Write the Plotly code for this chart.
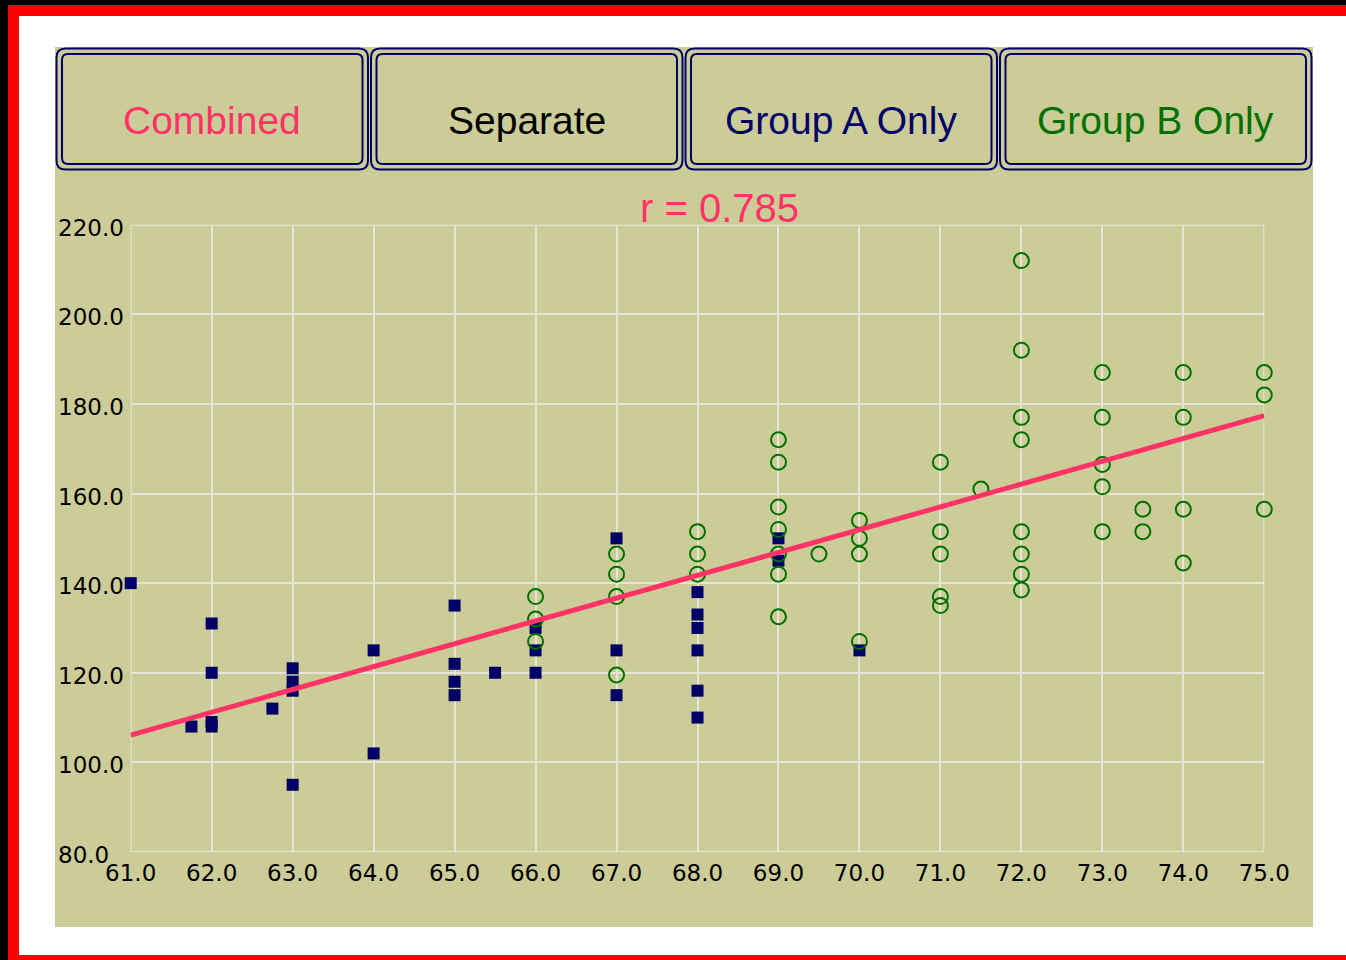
import plotly.graph_objects as go

# ---- data -------------------------------------------------------------
# Group A (filled squares)
group_a_height = [61, 61.75, 62, 62, 62, 62, 62.75, 63, 63, 63, 63, 64, 64,
                  65, 65, 65, 65, 65.5, 66, 66, 66, 67, 67, 67,
                  68, 68, 68, 68, 68, 68, 69, 69, 70]
group_a_weight = [140, 108, 131, 120, 109, 108, 112, 121, 118, 116, 95, 125, 102,
                  135, 122, 118, 115, 120, 130, 125, 120, 150, 125, 115,
                  138, 133, 130, 125, 116, 110, 150, 145, 125]

# Group B (open circles)
group_b_height = [66, 66, 66,
                  67, 67, 67, 67,
                  68, 68, 68,
                  69, 69, 69, 69, 69, 69, 69,
                  69.5,
                  70, 70, 70, 70,
                  71, 71, 71, 71, 71,
                  71.5,
                  72, 72, 72, 72, 72, 72, 72, 72,
                  73, 73, 73, 73, 73,
                  73.5, 73.5,
                  74, 74, 74, 74,
                  75, 75, 75]
group_b_weight = [137, 132, 127,
                  146.5, 142, 137, 119.5,
                  151.5, 146.5, 142,
                  172, 167, 157, 152, 146.5, 142, 132.5,
                  146.5,
                  154, 150, 146.5, 127,
                  167, 151.5, 146.5, 137, 135,
                  161,
                  212, 192, 177, 172, 151.5, 146.5, 142, 138.5,
                  187, 177, 166.5, 161.5, 151.5,
                  156.5, 151.5,
                  187, 177, 156.5, 144.5,
                  187, 182, 156.5]

# combined trend line (end points)
fit_x = [61, 75]
fit_y = [106.1, 177.4]

x_ticks = [61, 62, 63, 64, 65, 66, 67, 68, 69, 70, 71, 72, 73, 74, 75]
x_tick_labels = ["61.0", "62.0", "63.0", "64.0", "65.0", "66.0", "67.0", "68.0",
                 "69.0", "70.0", "71.0", "72.0", "73.0", "74.0", "75.0"]
y_ticks = [80, 100, 120, 140, 160, 180, 200, 220]
y_tick_labels = ["80.0", "100.0", "120.0", "140.0", "160.0", "180.0", "200.0", "220.0"]

button_labels = ["Combined", "Separate", "Group A Only", "Group B Only"]
correlation_label = "r = 0.785"

# ---- styling ----------------------------------------------------------
W, H = 1346, 960
KHAKI = "#CCCC99"
GRID = "#E6E6D6"
NAVY = "#000066"
GREEN = "#007000"
PINK = "#FF3366"
RED = "#FF0000"
FONT = "Liberation Sans, Arial, sans-serif"
TICK_FONT = "DejaVu Sans, Verdana, sans-serif"
button_colors = [PINK, "#000000", NAVY, GREEN]

# plot area in pixels
PX0, PX1 = 130.7, 1264.3
PY0, PY1 = 224.7, 852.0


def px(x):
    return x / W


def py(y):
    return 1 - y / H


def rounded_rect(x0, y0, x1, y1, r):
    """SVG path (paper coords) for a rounded rectangle given in pixels."""
    pts = [
        f"M{px(x0 + r)},{py(y0)}",
        f"L{px(x1 - r)},{py(y0)}",
        f"Q{px(x1)},{py(y0)} {px(x1)},{py(y0 + r)}",
        f"L{px(x1)},{py(y1 - r)}",
        f"Q{px(x1)},{py(y1)} {px(x1 - r)},{py(y1)}",
        f"L{px(x0 + r)},{py(y1)}",
        f"Q{px(x0)},{py(y1)} {px(x0)},{py(y1 - r)}",
        f"L{px(x0)},{py(y0 + r)}",
        f"Q{px(x0)},{py(y0)} {px(x0 + r)},{py(y0)}",
        "Z",
    ]
    return " ".join(pts)


fig = go.Figure()

fig.add_trace(go.Scatter(
    x=group_a_height, y=group_a_weight, mode="markers", name="Group A",
    marker=dict(symbol="square", size=12, color=NAVY, line=dict(width=0)),
    cliponaxis=False, hoverinfo="x+y"))
fig.add_trace(go.Scatter(
    x=group_b_height, y=group_b_weight, mode="markers", name="Group B",
    marker=dict(symbol="circle-open", size=15, color=GREEN, line=dict(width=2, color=GREEN)),
    cliponaxis=False, hoverinfo="x+y"))
fig.add_trace(go.Scatter(
    x=fit_x, y=fit_y, mode="lines", name="Fit",
    line=dict(color=PINK, width=5), cliponaxis=False, hoverinfo="skip"))

shapes = [
    # red frame, white page, khaki panel
    dict(type="rect", xref="paper", yref="paper", x0=px(8), x1=px(W), y0=py(H), y1=py(5),
         fillcolor=RED, line_width=0, layer="below"),
    dict(type="rect", xref="paper", yref="paper", x0=px(19), x1=px(W), y0=py(955), y1=py(16),
         fillcolor="white", line_width=0, layer="below"),
    dict(type="rect", xref="paper", yref="paper", x0=px(55), x1=px(1313), y0=py(927), y1=py(47),
         fillcolor=KHAKI, line_width=0, layer="below"),
    # grid frame along the axis limits
    dict(type="rect", xref="x", yref="y", x0=x_ticks[0], x1=x_ticks[-1], y0=y_ticks[0], y1=y_ticks[-1],
         line=dict(color=GRID, width=2), fillcolor="rgba(0,0,0,0)", layer="below"),
]

annotations = []
cell_w = (1313 - 55) / 4
for i, (label, color) in enumerate(zip(button_labels, button_colors)):
    left = 55 + i * cell_w
    right = left + cell_w
    # double border of the button
    shapes.append(dict(type="path", xref="paper", yref="paper", layer="above",
                       path=rounded_rect(left + 1.5, 48.5, right - 1.5, 169.5, 9),
                       line=dict(color=NAVY, width=2)))
    shapes.append(dict(type="path", xref="paper", yref="paper", layer="above",
                       path=rounded_rect(left + 7, 54, right - 7, 164, 6),
                       line=dict(color=NAVY, width=2)))
    annotations.append(dict(text=label, xref="paper", yref="paper",
                            x=px((left + right) / 2), y=py(121), xanchor="center", yanchor="middle",
                            showarrow=False, font=dict(family=FONT, size=39, color=color)))

annotations.append(dict(text=correlation_label, xref="paper", yref="paper",
                        x=px(719), y=py(208), xanchor="center", yanchor="middle",
                        showarrow=False, font=dict(family=FONT, size=40, color=PINK)))

# left-aligned value labels on the vertical axis
for val, lab in zip(y_ticks, y_tick_labels):
    annotations.append(dict(text=lab, xref="paper", yref="y", x=px(56), y=val,
                            xanchor="left", yanchor="middle", yshift=-3, showarrow=False,
                            font=dict(family=TICK_FONT, size=23, color="#000000")))

fig.update_layout(
    width=W, height=H,
    autosize=False,
    margin=dict(l=0, r=0, t=0, b=0, pad=0, autoexpand=False),
    paper_bgcolor="#000000",
    plot_bgcolor=KHAKI,
    showlegend=False,
    shapes=shapes,
    annotations=annotations,
    xaxis=dict(domain=[px(PX0), px(PX1)], range=[61, 75], tickvals=x_ticks, ticktext=x_tick_labels,
               showgrid=True, gridcolor=GRID, gridwidth=2, zeroline=False, ticks="", ticklen=0,
               showline=False, automargin=False,
               tickfont=dict(family=TICK_FONT, size=23, color="#000000"), ticklabelstandoff=5),
    yaxis=dict(domain=[py(PY1), py(PY0)], range=[80, 220], tickvals=y_ticks,
               showticklabels=False, showgrid=True, gridcolor=GRID, gridwidth=2,
               zeroline=False, ticks="", showline=False, automargin=False),
)

fig.write_html("out.html")
